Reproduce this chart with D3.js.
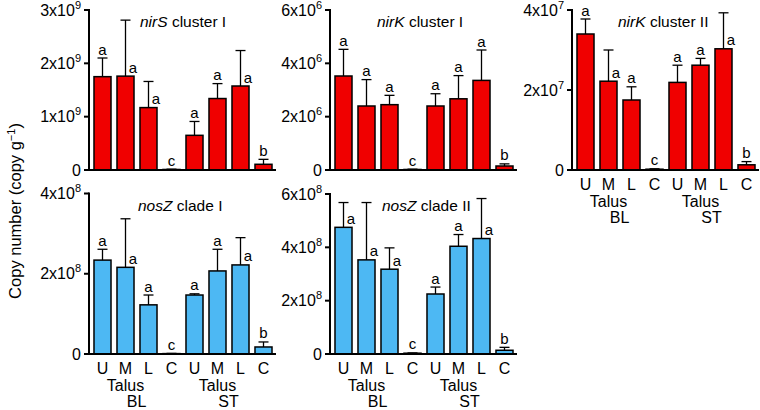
<!DOCTYPE html>
<html><head><meta charset="utf-8">
<script src="https://cdn.jsdelivr.net/npm/d3@7"></script>
<style>body{margin:0;background:#fff}svg{display:block}text{font-family:Arial,"Liberation Sans",sans-serif}</style>
</head><body><svg id="c" width="760" height="410"></svg>
<script>
const categories = ["U","M","L","C","U","M","L","C"];
const groupLabels = ["BL","ST"];

const nirS_mean = [1.75e9,1.76e9,1.17e9,0.01e9,0.65e9,1.34e9,1.575e9,0.107e9];
const nirS_err  = [0.35e9,1.05e9,0.49e9,0.005e9,0.26e9,0.28e9,0.665e9,0.093e9];
const nirS_let  = ["a","a","a","c","a","a","a","b"];
const nirS_pos  = ["c","r","r","c","c","c","r","c"];

const nirK1_mean = [3.525e6,2.4e6,2.45e6,0.02e6,2.4e6,2.67e6,3.36e6,0.15e6];
const nirK1_err  = [1.0e6,0.99e6,0.35e6,0.01e6,0.46e6,0.87e6,1.14e6,0.08e6];
const nirK1_let  = ["a","a","a","c","a","a","a","b"];
const nirK1_pos  = ["c","c","c","c","c","c","c","c"];

const nirK2_mean = [3.4e7,2.22e7,1.75e7,0.02e7,2.19e7,2.62e7,3.03e7,0.13e7];
const nirK2_err  = [0.375e7,0.78e7,0.33e7,0.01e7,0.43e7,0.17e7,0.9e7,0.08e7];
const nirK2_let  = ["a","a","a","c","a","a","a","b"];
const nirK2_pos  = ["c","r","c","c","c","c","r","c"];

const nosZ1_mean = [2.34e8,2.16e8,1.225e8,0.01e8,1.47e8,2.07e8,2.22e8,0.175e8];
const nosZ1_err  = [0.27e8,1.21e8,0.245e8,0.005e8,0.03e8,0.54e8,0.68e8,0.125e8];
const nosZ1_let  = ["a","a","a","c","a","a","a","b"];
const nosZ1_pos  = ["c","r","c","c","c","c","r","c"];

const nosZ2_mean = [4.75e8,3.53e8,3.18e8,0.03e8,2.25e8,4.04e8,4.33e8,0.14e8];
const nosZ2_err  = [0.93e8,2.15e8,0.8e8,0.01e8,0.26e8,0.44e8,1.5e8,0.11e8];
const nosZ2_let  = ["a","a","a","c","a","a","a","b"];
const nosZ2_pos  = ["r","r","r","c","c","c","r","c"];

const RED = "#f00000", BLUE = "#4db8f3";

const panels = [
  {it:"nirS", rest:" cluster I", mean:nirS_mean, err:nirS_err, let:nirS_let, pos:nirS_pos, max:3e9, exp:9, ticks:[0,1,2,3], x0:89, y0:170, y1:10, col:RED, xl:false, tx:140},
  {it:"nirK", rest:" cluster I", mean:nirK1_mean, err:nirK1_err, let:nirK1_let, pos:nirK1_pos, max:6e6, exp:6, ticks:[0,2,4,6], x0:330, y0:170, y1:10, col:RED, xl:false, tx:377},
  {it:"nirK", rest:" cluster II", mean:nirK2_mean, err:nirK2_err, let:nirK2_let, pos:nirK2_pos, max:4e7, exp:7, ticks:[0,2,4], x0:572, y0:170, y1:10, col:RED, xl:true, tx:618},
  {it:"nosZ", rest:" clade I", mean:nosZ1_mean, err:nosZ1_err, let:nosZ1_let, pos:nosZ1_pos, max:4e8, exp:8, ticks:[0,2,4], x0:89, y0:354, y1:193.5, col:BLUE, xl:true, tx:138},
  {it:"nosZ", rest:" clade II", mean:nosZ2_mean, err:nosZ2_err, let:nosZ2_let, pos:nosZ2_pos, max:6e8, exp:8, ticks:[0,2,4,6], x0:330, y0:354, y1:194, col:BLUE, xl:true, tx:382}
];

const svg = d3.select("#c");

panels.forEach(p => {
  const g = svg.append("g");
  const idx = d3.range(categories.length);
  const x = d3.scaleBand().domain(idx).range([p.x0+2, p.x0+186]).paddingInner(0.26).paddingOuter(0.13);
  const y = d3.scaleLinear().domain([0, p.max]).range([p.y0, p.y1]);
  const bw = x.bandwidth();

  g.selectAll("rect.bar").data(idx).join("rect")
    .attr("x", i => x(i)).attr("width", bw)
    .attr("y", i => y(p.mean[i])).attr("height", i => y(0) - y(p.mean[i]))
    .attr("fill", p.col).attr("stroke", "#000").attr("stroke-width", 1.5);

  idx.forEach(i => {
    const cx = x(i) + bw/2, yt = y(p.mean[i] + p.err[i]), yb = y(p.mean[i]);
    g.append("line").attr("x1", cx).attr("x2", cx).attr("y1", yb).attr("y2", yt).attr("stroke","#000").attr("stroke-width",1.3);
    g.append("line").attr("x1", cx-5).attr("x2", cx+5).attr("y1", yt).attr("y2", yt).attr("stroke","#000").attr("stroke-width",1.3);
    const right = p.pos[i] === "r";
    g.append("text").attr("x", right ? cx+7.5 : cx).attr("y", (right ? yb : yt) - 3.5)
      .attr("text-anchor","middle").attr("font-size",15).attr("fill","#000").text(p.let[i]);
  });

  g.append("line").attr("x1", p.x0).attr("x2", p.x0).attr("y1", y(0)+1).attr("y2", y(p.max)-1).attr("stroke","#000").attr("stroke-width",2);
  p.ticks.forEach(t => {
    const v = t * Math.pow(10, p.exp);
    const yy = y(v);
    g.append("line").attr("x1", p.x0-5).attr("x2", p.x0).attr("y1", yy).attr("y2", yy).attr("stroke","#000").attr("stroke-width",2);
    const tx = g.append("text").attr("x", p.x0-8).attr("y", yy+5.5).attr("text-anchor","end").attr("font-size",16).attr("fill","#000");
    if (t === 0) tx.text("0");
    else {
      tx.append("tspan").text(t + "x10");
      tx.append("tspan").attr("font-size",11).attr("dy",-7).text(p.exp);
    }
  });
  g.append("line").attr("x1", p.x0-1).attr("x2", p.x0+187).attr("y1", y(0)).attr("y2", y(0)).attr("stroke","#000").attr("stroke-width",2);

  const tt = g.append("text").attr("x", p.tx).attr("y", p.y1+17).attr("font-size",15.5).attr("fill","#000");
  tt.append("tspan").attr("font-style","italic").text(p.it);
  tt.append("tspan").text(p.rest);

  if (p.xl) {
    g.selectAll("text.xl").data(idx).join("text")
      .attr("x", i => x(i) + bw/2).attr("y", y(0)+19.5)
      .attr("text-anchor","middle").attr("font-size",16).attr("fill","#000").text(i => categories[i]);
    [0,1].forEach(k => {
      const mc = x(k*4+1) + bw/2;
      g.append("text").attr("x", mc).attr("y", y(0)+37).attr("text-anchor","middle").attr("font-size",16).attr("fill","#000").text("Talus");
      g.append("text").attr("x", mc+11).attr("y", y(0)+52.5).attr("text-anchor","middle").attr("font-size",16).attr("fill","#000").text(groupLabels[k]);
    });
  }
});

const yl = svg.append("text").attr("transform","translate(21,211) rotate(-90)").attr("text-anchor","middle").attr("font-size",16.5).attr("fill","#000");
yl.append("tspan").text("Copy number (copy g");
yl.append("tspan").attr("font-size",11).attr("dy",-6).text("\u22121");
yl.append("tspan").attr("dy",6).text(")");
</script>
</body></html>
